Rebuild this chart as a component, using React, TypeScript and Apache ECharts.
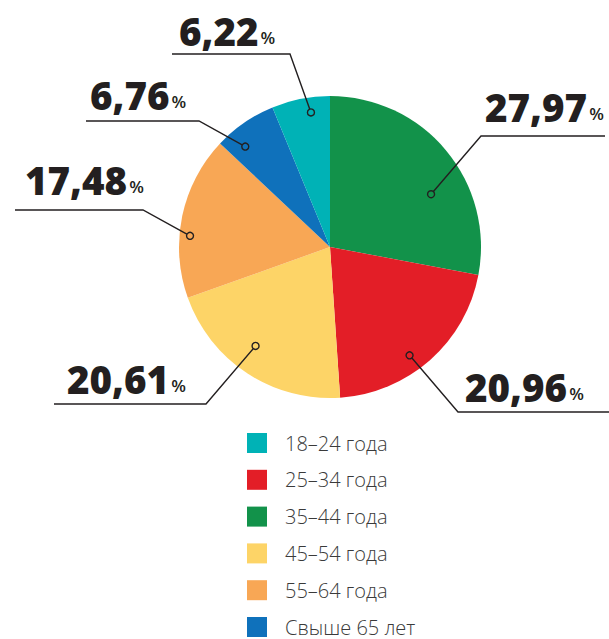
import React, { useEffect, useRef } from "react";
import * as echarts from "echarts";

// Slices in drawing order (clockwise from 12 o'clock)
const categories = ["35–44 года", "25–34 года", "45–54 года", "55–64 года", "Свыше 65 лет", "18–24 года"];
const values = [27.97, 20.96, 20.61, 17.48, 6.76, 6.22];
const colors = ["#12924A", "#E31E27", "#FDD467", "#F8A755", "#0F71BB", "#00B2B6"];
// Legend order
const legendOrder = ["18–24 года", "25–34 года", "35–44 года", "45–54 года", "55–64 года", "Свыше 65 лет"];

// Annotation layout (per slice, same order): dot position within slice [angle fraction, radius fraction],
// text left/bottom, underline [inner x, outer x, y]
const dotPlace = [[0.62, 0.755], [0.57, 0.89], [0.55, 0.82], [0.385, 0.93], [0.27, 0.87], [0.64, 0.9]];
const textPos = [[485, 126], [465, 406], [67, 398], [25, 199], [90, 114], [179, 50]];
const underline = [[481, 605, 136], [458, 609, 412], [206, 54, 404], [143, 15, 210], [199, 86, 121], [290, 172, 54]];

const CX = 330;
const CY = 247;
const R = 151;

export default function App() {
  const ref = useRef<HTMLDivElement>(null);
  useEffect(() => {
    if (!ref.current) return;
    const chart = echarts.init(ref.current, undefined, { renderer: "svg" });
    const total = values.reduce((a, b) => a + b, 0);
    const graphics: any[] = [];
    let cum = 0;
    values.forEach((v, i) => {
      const a0 = (cum / total) * 360;
      const a1 = ((cum + v) / total) * 360;
      cum += v;
      const ang = ((a0 + (a1 - a0) * dotPlace[i][0]) * Math.PI) / 180;
      const r = R * dotPlace[i][1];
      const dx = CX + r * Math.sin(ang);
      const dy = CY - r * Math.cos(ang);
      const [ux0, ux1, uy] = underline[i];
      graphics.push({
        type: "polyline",
        z: 10,
        shape: { points: [[dx, dy], [ux0, uy], [ux1, uy]] },
        style: { stroke: "#231F20", lineWidth: 1.4, fill: null },
      });
      graphics.push({
        type: "circle",
        z: 11,
        shape: { cx: dx, cy: dy, r: 3.5 },
        style: { stroke: "#231F20", lineWidth: 1.4, fill: colors[i] },
      });
      const txt = v.toFixed(2).replace(".", ",");
      graphics.push({
        type: "text",
        z: 12,
        x: textPos[i][0],
        y: textPos[i][1],
        style: {
          text: `{n|${txt}}{p|%}`,
          verticalAlign: "bottom",
          align: "left",
          rich: {
            n: { fontFamily: "Open Sans", fontWeight: 800, fontSize: 38.5, fill: "#231F20", lineHeight: 44, verticalAlign: "bottom" },
            p: { fontFamily: "Open Sans", fontWeight: 600, fontSize: 17, fill: "#231F20", lineHeight: 20, verticalAlign: "bottom", padding: [0, 0, 4, 2] },
          },
        },
      });
    });

    chart.setOption({
      animation: false,
      legend: {
        data: legendOrder,
        orient: "vertical",
        left: 247,
        top: 433,
        padding: 0,
        itemWidth: 20,
        itemHeight: 20,
        itemGap: 16.8,
        icon: "rect",
        selectedMode: false,
        textStyle: { fontFamily: "Open Sans", fontWeight: 300, fontSize: 20, color: "#3A3A3A", padding: [0, 0, 0, 13] },
      },
      series: [
        {
          type: "pie",
          center: [CX, CY],
          radius: [0, R],
          startAngle: 90,
          clockwise: true,
          label: { show: false },
          labelLine: { show: false },
          silent: true,
          itemStyle: { borderWidth: 0 },
          data: categories.map((name, i) => ({ name, value: values[i], itemStyle: { color: colors[i] } })),
        },
      ],
      graphic: graphics,
    });
    return () => chart.dispose();
  }, []);
  return <div ref={ref} style={{ position: "absolute", left: 0, top: 0, width: 609, height: 639, background: "#fff" }} />;
}
